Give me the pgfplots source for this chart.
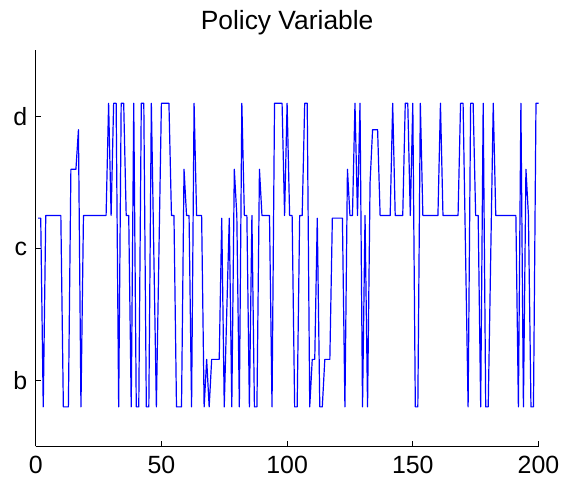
\documentclass[border=0pt]{standalone}
\usepackage{fontspec}
\setmainfont{Liberation Sans}
\usepackage{pgfplots}
\usepackage{pgfplotstable}
\pgfplotsset{compat=1.18}
\pgfplotstableread{
x y
1 1.23
2 1.23
3 -0.2
4 1.25
5 1.25
6 1.25
7 1.25
8 1.25
9 1.25
10 1.25
11 -0.2
12 -0.2
13 -0.2
14 1.6
15 1.6
16 1.6
17 1.9
18 -0.2
19 1.25
20 1.25
21 1.25
22 1.25
23 1.25
24 1.25
25 1.25
26 1.25
27 1.25
28 1.25
29 2.1
30 1.25
31 2.1
32 2.1
33 -0.2
34 2.1
35 2.1
36 1.25
37 1.25
38 -0.2
39 2.1
40 -0.2
41 -0.2
42 2.1
43 2.1
44 -0.2
45 -0.2
46 2.1
47 0.95
48 -0.2
49 0.95
50 2.1
51 2.1
52 2.1
53 2.1
54 1.25
55 1.25
56 -0.2
57 -0.2
58 -0.2
59 1.6
60 1.25
61 1.25
62 -0.2
63 2.1
64 1.25
65 1.25
66 1.25
67 -0.2
68 0.16
69 -0.2
70 0.16
71 0.16
72 0.16
73 0.16
74 1.23
75 -0.2
76 0.52
77 1.23
78 -0.2
79 1.6
80 1.25
81 -0.2
82 2.1
83 1.25
84 1.25
85 -0.2
86 1.25
87 -0.2
88 -0.2
89 1.6
90 1.25
91 1.25
92 1.25
93 1.25
94 -0.2
95 2.1
96 2.1
97 2.1
98 2.1
99 1.25
100 2.1
101 1.25
102 1.25
103 -0.2
104 -0.2
105 1.25
106 1.25
107 2.1
108 2.1
109 -0.2
110 0.16
111 0.16
112 1.23
113 -0.2
114 -0.2
115 0.16
116 0.16
117 0.16
118 1.23
119 1.23
120 1.23
121 1.23
122 1.23
123 -0.2
124 1.6
125 1.25
126 1.25
127 2.1
128 1.25
129 2.1
130 -0.2
131 1.25
132 -0.2
133 1.5
134 1.9
135 1.9
136 1.9
137 1.25
138 1.25
139 1.25
140 1.25
141 1.25
142 2.1
143 1.25
144 1.25
145 1.25
146 1.25
147 2.1
148 2.1
149 1.25
150 2.1
151 -0.2
152 -0.2
153 2.1
154 1.25
155 1.25
156 1.25
157 1.25
158 1.25
159 1.25
160 1.25
161 2.1
162 1.25
163 1.25
164 1.25
165 1.25
166 1.25
167 1.25
168 1.25
169 2.1
170 2.1
171 0.95
172 -0.2
173 2.1
174 2.1
175 1.25
176 1.25
177 -0.2
178 2.1
179 -0.2
180 -0.2
181 0.95
182 2.1
183 1.25
184 1.25
185 1.25
186 1.25
187 1.25
188 1.25
189 1.25
190 1.25
191 1.25
192 -0.2
193 2.1
194 -0.2
195 1.6
196 1.25
197 -0.2
198 -0.2
199 2.1
200 2.1
}\policy
\begin{document}
\begin{tikzpicture}
\useasboundingbox (-35.7bp,-43.5bp) rectangle (540.3bp,446.5bp);
\begin{axis}[
  at={(0,0)}, anchor=south west,
  scale only axis, width=502.8bp, height=396bp,
  xmin=0, xmax=200, ymin=-0.5, ymax=2.5,
  axis lines=left,
  axis line style={-, line width=0.8bp, black},
  tick align=inside,
  major tick length=5bp,
  tick style={line width=0.8bp, black},
  xtick={0,50,100,150,200},
  ytick={0,1,2},
  yticklabels={b,c,d},
  /pgf/number format/assume math mode=true,
  tick label style={font=\fontsize{25}{30}\selectfont},
  xticklabel style={anchor=base, yshift=-27bp},
  yticklabel style={xshift=-5bp},
  title={Policy Variable},
  title style={font=\fontsize{26.5}{30}\selectfont, at={(0.5,1)}, anchor=base, yshift=15bp},
]
\addplot[color={rgb,255:red,0;green,0;blue,255}, line width=1.2bp, line join=round, mark=none] table[x=x, y=y] {\policy};
\end{axis}
\end{tikzpicture}
\end{document}
